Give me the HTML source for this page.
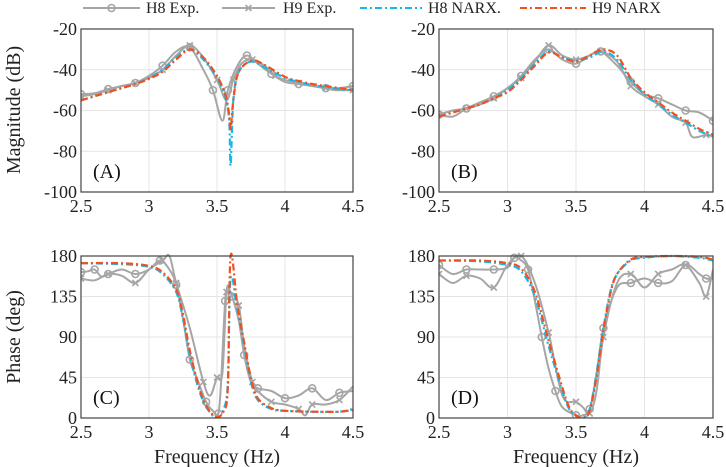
<!DOCTYPE html>
<html><head><meta charset="utf-8">
<style>
html,body{margin:0;padding:0;background:#fff;}
svg{display:block;font-family:"Liberation Serif",serif;}
</style></head>
<body>
<svg id="fig" width="726" height="467" viewBox="0 0 726 467" xmlns="http://www.w3.org/2000/svg"></svg>
<script>
// ---------- data ----------
const magA_h8x=[2.5,2.6,2.7,2.8,2.9,3.0,3.1,3.2,3.3,3.4,3.47,3.54,3.58,3.65,3.72,3.8,3.9,4.0,4.1,4.2,4.3,4.4,4.5];
const magA_h8y=[-52,-51.5,-49.5,-48,-46.5,-43,-38,-31,-29,-40,-50,-65,-50,-38,-33,-37,-42,-46,-47,-48,-49,-49,-48];
const magA_h9x=[2.5,2.6,2.7,2.8,2.9,3.0,3.1,3.2,3.3,3.4,3.5,3.57,3.62,3.68,3.76,3.85,3.93,4.0,4.1,4.2,4.3,4.37,4.5];
const magA_h9y=[-53,-52,-50,-48,-46.5,-44,-40,-33,-28,-34,-45,-55,-45,-37,-35,-38,-43,-45,-46.5,-48,-49,-50,-50];
const magA_n8x=[2.5,2.6,2.7,2.8,2.9,3.0,3.1,3.2,3.3,3.4,3.5,3.56,3.59,3.6,3.62,3.66,3.75,3.85,4.0,4.1,4.2,4.3,4.4,4.5];
const magA_n8y=[-55,-53,-51,-49,-47,-44,-40,-34,-30,-35,-44,-53,-65,-87,-55,-41,-36,-39,-44,-46,-47.5,-48.5,-49.5,-50];
const magA_n9x=[2.5,2.6,2.7,2.8,2.9,3.0,3.1,3.2,3.3,3.4,3.5,3.56,3.59,3.6,3.62,3.66,3.76,3.86,4.0,4.1,4.2,4.3,4.4,4.5];
const magA_n9y=[-55,-53,-51,-49,-47,-44.5,-41,-35,-30,-34,-43,-52,-62,-70,-55,-41,-35.5,-38,-43.5,-45.5,-47,-48,-49,-50];

const magB_h8x=[2.5,2.6,2.7,2.8,2.9,3.0,3.1,3.2,3.3,3.4,3.5,3.6,3.68,3.8,3.9,4.0,4.1,4.2,4.3,4.4,4.5];
const magB_h8y=[-62,-63,-59,-56,-53,-49,-43,-35,-30,-35,-37,-33,-31,-38,-46,-52,-54,-57,-60,-61,-65];
const magB_h9x=[2.5,2.6,2.7,2.8,2.9,3.0,3.1,3.2,3.3,3.4,3.5,3.6,3.68,3.8,3.9,4.0,4.1,4.2,4.3,4.35,4.45,4.5];
const magB_h9y=[-62,-60,-59,-57,-54,-49,-44,-36,-28,-33,-35,-33,-31,-36,-48,-53,-57,-63,-66,-73,-72,-73];
const magB_n8x=[2.5,2.6,2.7,2.8,2.9,3.0,3.1,3.2,3.3,3.4,3.5,3.6,3.7,3.8,3.9,4.0,4.1,4.2,4.3,4.4,4.5];
const magB_n8y=[-63,-61,-59,-57,-54,-50,-44,-37,-31,-34,-35.5,-34,-31,-35,-45,-52,-57,-62,-66,-70,-73];
const magB_n9y=[-63,-61,-59,-57,-54,-51,-45,-38,-31.5,-34,-36,-33,-30,-33,-44,-51,-56,-61,-65,-69,-72];

const phC_h8x=[2.5,2.55,2.6,2.65,2.7,2.8,2.9,3.0,3.08,3.15,3.2,3.25,3.3,3.35,3.42,3.47,3.51,3.53,3.56,3.58,3.61,3.66,3.7,3.75,3.8,3.9,4.0,4.1,4.2,4.3,4.4,4.5];
const phC_h8y=[162,163,165,157,160,165,160,165,175,165,148,110,65,45,18,8,5,40,130,140,135,108,70,40,33,30,22,25,33,20,28,30];
const phC_h9x=[2.5,2.6,2.7,2.8,2.9,3.0,3.1,3.15,3.2,3.3,3.4,3.45,3.5,3.54,3.57,3.6,3.66,3.7,3.76,3.8,3.9,4.0,4.1,4.15,4.2,4.3,4.4,4.5];
const phC_h9y=[155,153,160,158,150,165,175,180,150,100,40,25,45,50,140,140,125,80,40,30,18,15,10,3,15,15,20,35];
const phC_n8x=[2.5,2.8,3.0,3.1,3.2,3.25,3.3,3.35,3.4,3.45,3.5,3.55,3.58,3.6,3.65,3.7,3.75,3.8,3.9,4.0,4.2,4.4,4.5];
const phC_n8y=[172,171,168,160,140,110,70,40,18,6,0,10,40,155,120,80,40,20,10,8,7,7,10];
const phC_n9y=[172,172,169,162,143,115,75,44,20,7,1,8,35,180,125,84,44,22,11,8,7,7,9];

const phD_h8x=[2.5,2.6,2.7,2.8,2.9,3.0,3.05,3.1,3.15,3.2,3.25,3.3,3.35,3.4,3.5,3.55,3.6,3.65,3.7,3.8,3.9,4.0,4.1,4.2,4.3,4.4,4.45,4.5];
const phD_h8y=[170,160,165,165,165,167,178,175,165,130,90,55,30,12,3,3,10,48,100,145,150,155,150,152,170,160,155,155];
const phD_h9x=[2.5,2.6,2.7,2.8,2.9,3.0,3.1,3.2,3.3,3.4,3.5,3.55,3.6,3.65,3.7,3.8,3.9,4.0,4.1,4.2,4.3,4.4,4.45,4.5];
const phD_h9y=[160,150,158,155,145,170,180,150,95,25,18,12,5,30,90,150,160,145,160,165,170,150,135,165];
const phD_n8x=[2.5,2.8,3.0,3.1,3.2,3.3,3.4,3.45,3.5,3.55,3.6,3.65,3.7,3.75,3.8,3.9,4.0,4.2,4.4,4.5];
const phD_n8y=[175,174,170,163,135,80,30,10,2,0,10,50,100,140,160,175,178,180,178,175];
const phD_n9y=[175,175,172,166,140,86,34,12,3,0,8,46,97,138,160,176,179,180,179,176];

const xTicks=[2.5,3,3.5,4,4.5];
const magTicks=[-20,-40,-60,-80,-100];
const phTicks=[180,135,90,45,0];

// ---------- drawing ----------
const NS="http://www.w3.org/2000/svg";
const svg=document.getElementById('fig');
function mk(tag,attrs,parent){const e=document.createElementNS(NS,tag);for(const k in attrs)e.setAttribute(k,attrs[k]);(parent||svg).appendChild(e);return e;}
const GRAY="#a6a6a6",CYAN="#1ab8e6",RED="#f2501d";

function panel(name,x0,x1,y0,y1,ymin,ymax,yt,label){
  const g=mk('g',{});
  
  
  const sx=v=>x0+(v-2.5)/2*(x1-x0);
  const sy=v=>y1-(v-ymin)/(ymax-ymin)*(y1-y0);
  xTicks.forEach(t=>{
    const l=mk('line',{x1:sx(t),x2:sx(t),y1:y0,y2:y1,stroke:"#e4e4e4","stroke-width":1},g);
    
    const tx=mk('text',{x:sx(t),y:y1+20,"font-size":18,"text-anchor":"middle",fill:"#222"},g);
    tx.textContent=t;
    
  });
  yt.forEach(t=>{
    const l=mk('line',{x1:x0,x2:x1,y1:sy(t),y2:sy(t),stroke:"#e4e4e4","stroke-width":1},g);
    
    const tx=mk('text',{x:x0-4,y:sy(t)+6,"font-size":18,"text-anchor":"end",fill:"#222"},g);
    tx.textContent=t;
    
  });
  const lb=mk('text',{x:x0+12,y:y1-14,"font-size":20,fill:"#111"},g);
  lb.textContent=label;
  
  const clip='c'+name;
  const cp=mk('clipPath',{id:clip},g);mk('rect',{x:x0,y:y0-6,width:x1-x0,height:y1-y0+6},cp);
  const sg=mk('g',{'clip-path':`url(#${clip})`},g);
  return {g:sg,sx,sy,frame:()=>{const r=mk('rect',{x:x0,y:y0,width:x1-x0,height:y1-y0,fill:"none",stroke:"#444","stroke-width":1.2},g);}};
}
function smoothPath(P){
  let d=`M${P[0][0].toFixed(1)},${P[0][1].toFixed(1)}`;
  for(let i=0;i<P.length-1;i++){
    const p0=P[Math.max(0,i-1)],p1=P[i],p2=P[i+1],p3=P[Math.min(P.length-1,i+2)];
    const c1=[p1[0]+(p2[0]-p0[0])/6,p1[1]+(p2[1]-p0[1])/6];
    const c2=[p2[0]-(p3[0]-p1[0])/6,p2[1]-(p3[1]-p1[1])/6];
    d+=`C${c1[0].toFixed(1)},${c1[1].toFixed(1)} ${c2[0].toFixed(1)},${c2[1].toFixed(1)} ${p2[0].toFixed(1)},${p2[1].toFixed(1)}`;
  }
  return d;
}
function series(p,xs,ys,color,dash,marker,name){
  const P=xs.map((x,i)=>[p.sx(x),p.sy(ys[i])]);
  const pl=mk('path',{d:smoothPath(P),fill:"none",stroke:color,"stroke-width":dash?2.2:2,"stroke-dasharray":dash||"none","stroke-linejoin":"round"},p.g);
  
  
  if(marker){
    xs.forEach((x,i)=>{ if(i%2) return;
      const cx=p.sx(x),cy=p.sy(ys[i]);
      if(marker==='o'){const c=mk('circle',{cx,cy,r:3.5,fill:"none",stroke:color,"stroke-width":1.6},p.g);
        }
      else{const m=mk('path',{d:`M${cx-3},${cy-3}L${cx+3},${cy+3}M${cx-3},${cy+3}L${cx+3},${cy-3}`,stroke:color,"stroke-width":1.6},p.g);
        }
    });
  }
}
const DD="7,3,2,3";
function four(p,a){
  series(p,a[0],a[1],GRAY,null,'o','h8-exp-line');
  series(p,a[2],a[3],GRAY,null,'x','h9-exp-line');
  series(p,a[4],a[5],CYAN,DD,null,'h8-narx-line');
  series(p,a[6],a[7],RED,DD,null,'h9-narx-line');
  p.frame();
}
const A=panel('panel-a',81,353,29,192,-100,-20,magTicks,'(A)');
four(A,[magA_h8x,magA_h8y,magA_h9x,magA_h9y,magA_n8x,magA_n8y,magA_n9x,magA_n9y]);
const B=panel('panel-b',439,713,29,192,-100,-20,magTicks,'(B)');
four(B,[magB_h8x,magB_h8y,magB_h9x,magB_h9y,magB_n8x,magB_n8y,magB_n8x,magB_n9y]);
const C=panel('panel-c',81,353,256,418,0,180,phTicks,'(C)');
four(C,[phC_h8x,phC_h8y,phC_h9x,phC_h9y,phC_n8x,phC_n8y,phC_n8x,phC_n9y]);
const D=panel('panel-d',439,713,256,418,0,180,phTicks,'(D)');
four(D,[phD_h8x,phD_h8y,phD_h9x,phD_h9y,phD_n8x,phD_n8y,phD_n8x,phD_n9y]);

// axis titles
const t1=mk('text',{x:0,y:0,"font-size":20,"text-anchor":"middle",transform:"translate(20,110) rotate(-90)",fill:"#222"});
t1.textContent="Magnitude (dB)";


const t2=mk('text',{x:0,y:0,"font-size":20,"text-anchor":"middle",transform:"translate(20,337) rotate(-90)",fill:"#222"});
t2.textContent="Phase (deg)";


[217,576].forEach(cx=>{const t=mk('text',{x:cx,y:463,"font-size":20,"text-anchor":"middle",fill:"#222"});
  t.textContent="Frequency (Hz)";
  
  });

// legend
const legend=[["H8 Exp.",GRAY,null,'o',83,140,146],["H9 Exp.",GRAY,null,'x',222,275,283],["H8 NARX.",CYAN,DD,null,360,422,428],["H9 NARX",RED,DD,null,520,586,592]];
legend.forEach(([lab,col,dash,mkr,la,lb,tx])=>{
  const g=mk('g',{});
  
  
  mk('line',{x1:la,x2:lb,y1:8,y2:8,stroke:col,"stroke-width":2,"stroke-dasharray":dash||"none"},g);
  const m=(la+lb)/2;
  if(mkr==='o')mk('circle',{cx:m,cy:8,r:3.5,fill:"none",stroke:col,"stroke-width":1.6},g);
  if(mkr==='x')mk('path',{d:`M${m-3},5L${m+3},11M${m-3},11L${m+3},5`,stroke:col,"stroke-width":1.6},g);
  const t=mk('text',{x:tx,y:13,"font-size":16,fill:"#222"},g);t.textContent=lab;
});
</script>
</body></html>
